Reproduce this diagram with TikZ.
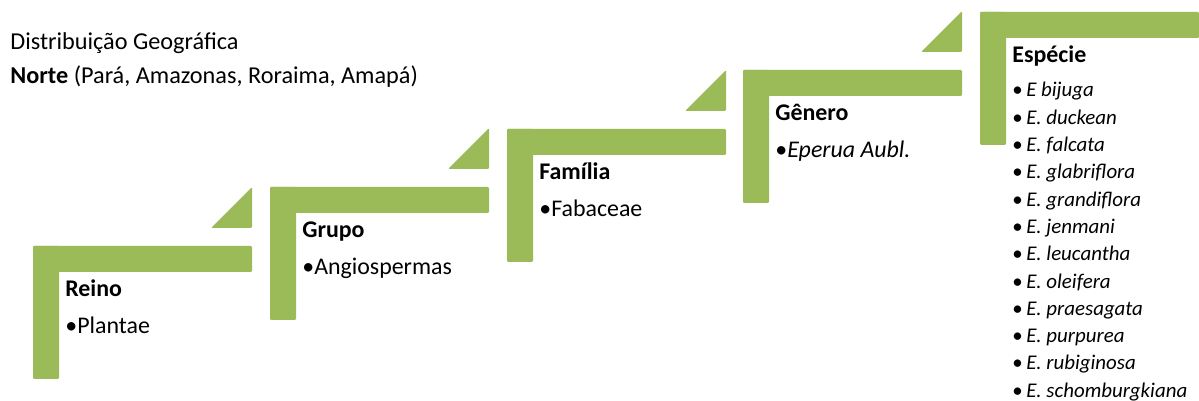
\documentclass[tikz,border=0pt]{standalone}
\usepackage{fontspec}
\setmainfont{Carlito}
\definecolor{stepgreen}{HTML}{9BBB59}

\begin{document}
\begin{tikzpicture}[x=0.02cm,y=-0.02cm,
    bar/.style={fill=stepgreen,rounded corners=0.7pt},
    title/.style={anchor=base west,inner sep=0pt,font=\fontsize{13.6}{16}\selectfont\bfseries},
    item/.style={anchor=base west,inner sep=0pt,font=\fontsize{13.6}{16}\selectfont},
    toptext/.style={anchor=base west,inner sep=0pt,font=\fontsize{13.8}{16}\selectfont},
    species/.style={anchor=base west,inner sep=0pt,font=\fontsize{11.9}{14}\selectfont}]
    \useasboundingbox (0,0) rectangle (1199,401);
    % distribution
    \node[toptext] (distrib) at (10,50) {Distribuição Geográfica};
    \node[toptext] (norte) at (10,84) {\textbf{Norte} (Pará, Amazonas, Roraima, Amapá)};
    % step 1
    \fill[bar] (33,246) rectangle (252,272);
    \fill[bar] (33,246) rectangle (59,379);
    \fill[bar] (211,228) -- (252,187) -- (252,228) -- cycle;
    \node[title] (reino) at (65,297) {Reino};
    \node[item] (plantae) at (65,334) {•Plantae};
    % step 2
    \fill[bar] (270,187) rectangle (489,213);
    \fill[bar] (270,187) rectangle (296,320);
    \fill[bar] (448,169) -- (489,128) -- (489,169) -- cycle;
    \node[title] (grupo) at (302,238) {Grupo};
    \node[item] (angio) at (302,275) {•Angiospermas};
    % step 3
    \fill[bar] (507,129) rectangle (726,155);
    \fill[bar] (507,129) rectangle (533,262);
    \fill[bar] (685,111) -- (726,70) -- (726,111) -- cycle;
    \node[title] (familia) at (539,180) {Família};
    \node[item] (fabaceae) at (539,217) {•Fabaceae};
    % step 4
    \fill[bar] (743,70) rectangle (962,96);
    \fill[bar] (743,70) rectangle (769,203);
    \fill[bar] (921,52) -- (962,11) -- (962,52) -- cycle;
    \node[title] (genero) at (775,121) {Gênero};
    \node[item] (eperua) at (775,158) {•\textit{Eperua Aubl.}};
    % step 5
    \fill[bar] (980,12) rectangle (1199,38);
    \fill[bar] (980,12) rectangle (1006,145);
    \node[title] (especie) at (1012,63) {Espécie};
    \node[species] (bijuga) at (1012,97) {•\,\textit{E bijuga}};
    \node[species] (duckean) at (1012,124.3) {•\,\textit{E. duckean}};
    \node[species] (falcata) at (1012,151.6) {•\,\textit{E. falcata}};
    \node[species] (glabri) at (1012,178.9) {•\,\textit{E. glabriflora}};
    \node[species] (grandi) at (1012,206.2) {•\,\textit{E. grandiflora}};
    \node[species] (jenmani) at (1012,233.5) {•\,\textit{E. jenmani}};
    \node[species] (leucantha) at (1012,260.8) {•\,\textit{E. leucantha}};
    \node[species] (oleifera) at (1012,288.1) {•\,\textit{E. oleifera}};
    \node[species] (praesagata) at (1012,315.4) {•\,\textit{E. praesagata}};
    \node[species] (purpurea) at (1012,342.7) {•\,\textit{E. purpurea}};
    \node[species] (rubiginosa) at (1012,370) {•\,\textit{E. rubiginosa}};
    \node[species] (schomb) at (1012,397.3) {•\,\textit{E. schomburgkiana}};
\end{tikzpicture}
\end{document}
